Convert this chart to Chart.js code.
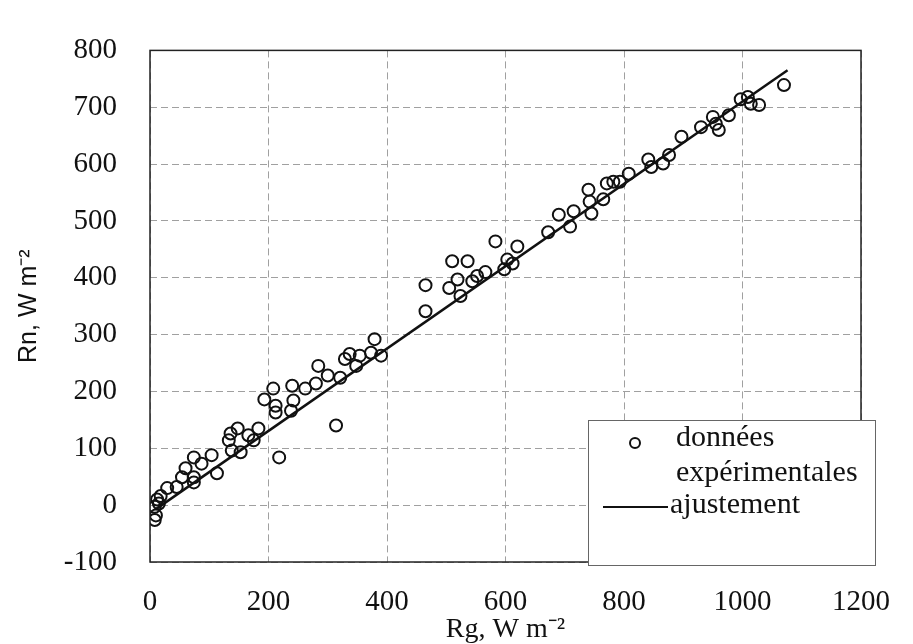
<!DOCTYPE html>
<html>
<head>
<meta charset="utf-8">
<script src="https://cdn.jsdelivr.net/npm/chart.js@4.4.1/dist/chart.umd.min.js"></script>
<style>
  html, body { margin: 0; padding: 0; background: #fff; }
  #wrap { width: 913px; height: 644px; position: relative; }
</style>
</head>
<body>
<div id="wrap"><canvas id="c" width="913" height="644"></canvas></div>
<script>
// Measured points: global radiation Rg (W m-2) and net radiation Rn (W m-2)
const rgValues = [8, 10, 8, 12, 18, 15, 29, 45, 54, 60, 74, 74, 74, 87, 104, 113, 133, 136, 148, 138, 153, 166, 175, 183, 193, 208, 212, 212, 218,
  238, 240, 242, 262, 280, 284, 300, 321, 314, 329, 337, 348, 354, 379, 373, 390,
  465, 465, 510, 536, 519, 505, 524, 544, 566, 583, 598, 603, 612, 620, 552,
  672, 690, 709, 715, 740, 742, 745, 765, 771, 782, 793, 808, 841, 846, 866, 876, 897,
  930, 950, 955, 960, 977, 997, 1009, 1014, 1028, 1070];
const rnValues = [-26, -18, -3, 10, 16, 3, 30, 32, 49, 65, 40, 49, 84, 73, 88, 56, 114, 126, 135, 96, 93, 123, 114, 135, 186, 205, 175, 163, 84,
  166, 210, 184, 205, 214, 245, 228, 224, 140, 257, 266, 245, 263, 292, 268, 263,
  341, 387, 429, 429, 397, 382, 368, 394, 410, 464, 415, 432, 425, 455, 403,
  480, 511, 490, 517, 555, 534, 513, 538, 566, 569, 569, 583, 608, 595, 601, 616, 648,
  665, 683, 671, 660, 686, 714, 718, 706, 704, 739];
// Fitted line end points (Rg, Rn)
const fitRg = [10, 1076];
const fitRn = [-7, 765];
// Axis ticks
const xTicks = [0, 200, 400, 600, 800, 1000, 1200];
const yTicks = [-100, 0, 100, 200, 300, 400, 500, 600, 700, 800];
const legendLabels = ['données', 'expérimentales', 'ajustement'];
const xTitle = 'Rg, W m⁻²';
const yTitle = 'Rn, W m⁻²';

const scatterData = rgValues.map((x, i) => ({ x: x, y: rnValues[i] }));
const fitData = fitRg.map((x, i) => ({ x: x, y: fitRn[i] }));

const framePlugin = {
  id: 'frame',
  afterDraw(chart) {
    const { ctx, chartArea: a } = chart;
    ctx.save();
    ctx.strokeStyle = '#222';
    ctx.lineWidth = 1.5;
    ctx.strokeRect(a.left, a.top, a.right - a.left, a.bottom - a.top);
    // legend box
    const lx = 588, ly = 420, lw = 287, lh = 145;
    ctx.fillStyle = '#fff';
    ctx.fillRect(lx, ly, lw, lh);
    ctx.strokeStyle = '#666';
    ctx.lineWidth = 1;
    ctx.strokeRect(lx + 0.5, ly + 0.5, lw, lh);
    // marker
    ctx.beginPath();
    ctx.arc(635, 443, 5, 0, Math.PI * 2);
    ctx.strokeStyle = '#111';
    ctx.lineWidth = 2;
    ctx.stroke();
    // line sample
    ctx.beginPath();
    ctx.moveTo(603, 507);
    ctx.lineTo(668, 507);
    ctx.lineWidth = 2;
    ctx.stroke();
    ctx.fillStyle = '#111';
    ctx.font = '30px "Liberation Serif", serif';
    ctx.textBaseline = 'middle';
    ctx.textAlign = 'left';
    ctx.fillText(legendLabels[0], 676, 438);
    ctx.fillText(legendLabels[1], 676, 473);
    ctx.fillText(legendLabels[2], 670, 505);
    ctx.restore();
  }
};

new Chart(document.getElementById('c'), {
  type: 'scatter',
  data: {
    datasets: [
      {
        type: 'line',
        label: 'ajustement',
        data: fitData,
        borderColor: '#111',
        borderWidth: 2.5,
        pointRadius: 0,
        fill: false,
        order: 0
      },
      {
        label: 'données expérimentales',
        data: scatterData,
        pointRadius: 6,
        pointBorderWidth: 2,
        pointBorderColor: '#111',
        pointBackgroundColor: 'rgba(0,0,0,0)',
        borderColor: '#111',
        backgroundColor: 'rgba(0,0,0,0)',
        order: 1
      }
    ]
  },
  options: {
    responsive: false,
    animation: false,
    layout: { padding: { left: 0, top: 48, right: 47, bottom: 0 } },
    plugins: { legend: { display: false }, tooltip: { enabled: false } },
    scales: {
      x: {
        type: 'linear',
        min: 0, max: 1200,
        afterBuildTicks: (s) => { s.ticks = xTicks.map(v => ({ value: v })); },
        afterFit: (s) => { s.height = 82; },
        ticks: {
          padding: 23,
          color: '#111',
          font: { family: '"Liberation Serif", serif', size: 29 },
          callback: (v) => String(v),
          maxRotation: 0
        },
        grid: { color: '#a0a0a0', lineWidth: 1, drawTicks: false },
        border: { display: false, dash: [7, 4] },
        title: {
          display: true, text: xTitle, color: '#111',
          font: { family: '"Liberation Serif", serif', size: 28, lineHeight: 1 },
          padding: { top: 0, bottom: 0 }
        }
      },
      y: {
        type: 'linear',
        min: -100, max: 800,
        afterBuildTicks: (s) => { s.ticks = yTicks.map(v => ({ value: v })); },
        afterFit: (s) => { s.width = 150; },
        ticks: {
          padding: 33,
          color: '#111',
          font: { family: '"Liberation Serif", serif', size: 29 },
          callback: (v) => String(v)
        },
        grid: { color: '#a0a0a0', lineWidth: 1, drawTicks: false },
        border: { display: false, dash: [7, 4] },
        title: {
          display: true, text: yTitle, color: '#111',
          font: { family: '"Liberation Sans", sans-serif', size: 25, lineHeight: 1 },
          padding: { top: 17, bottom: 0 }
        }
      }
    }
  },
  plugins: [framePlugin]
});
</script>
</body>
</html>
